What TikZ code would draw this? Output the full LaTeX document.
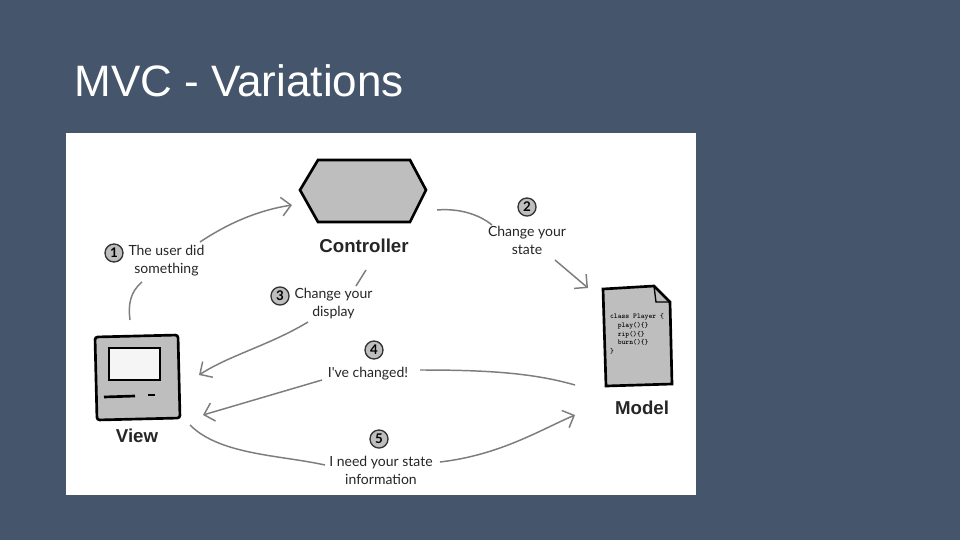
\documentclass[tikz,border=0pt]{standalone}
\usepackage{fontspec}
\setmainfont{Liberation Sans}
\newfontfamily\handfont{Lato}
\usetikzlibrary{arrows.meta,shapes.geometric}
\definecolor{slide}{RGB}{69,85,107}
\definecolor{ink}{RGB}{125,125,125}
\definecolor{shade}{RGB}{190,190,190}
\tikzset{every picture/.style={line width=0.75pt}}
\tikzset{
  flow/.style={draw=ink, line width=1.1pt, -{Straight Barb[length=7pt,width=14pt]}},
  flowpart/.style={draw=ink, line width=1.1pt},
  stepnum/.style={circle, draw=black!80, fill=shade, line width=1pt, inner sep=1.5pt, font=\handfont\bfseries\normalsize},
  note/.style={align=center, font=\handfont\fontsize{10.5}{13.5}\selectfont, text=black!85, inner sep=0.75pt},
  title/.style={font=\bfseries\fontsize{14}{16}\selectfont, text=black!85, inner sep=0.75pt}
}

\begin{document}
\begin{tikzpicture}[x=0.75pt,y=0.75pt,yscale=-1,xscale=1]
\useasboundingbox (0,0) rectangle (960,540);
\fill[slide] (0,0) rectangle (960,540);
\fill[white] (66,133) rectangle (696,495);

% Title
\node[anchor=west, text=white, font=\fontsize{33}{38}\selectfont, inner sep=0pt] (heading) at (74,81) {MVC - Variations};

%Shape: Controller
\draw[line width=2pt, fill=shade] (300,190) -- (318,160) -- (410,160) -- (426,190) -- (410,222) -- (318,222) -- cycle;
\node[title] (ctrl) at (364,246) {Controller};
%Shape: View
\draw[line width=2pt, fill=shade, rounded corners=2pt] (95,337) -- (178,335) -- (180,418) -- (97,420) -- cycle;
\draw[line width=1pt, fill=white!85!shade] (109,348) rectangle (160,380);
\draw[line width=2pt] (104,397) -- (135,396);
\draw[line width=2pt] (148,395) -- (155,395);
\node[title] (view) at (137,436) {View};
%Shape: Model
\draw[line width=2pt, fill=shade] (603,289) -- (654,286) -- (670,302) -- (672,384) -- (606,386) -- cycle;
\draw[line width=1pt] (654,286) -- (656,302) -- (670,302);
\node[font=\ttfamily\bfseries\fontsize{5.5}{6.5}\selectfont, align=left, inner sep=0pt] (code) at (637,334) {class Player \{\\\ \ play()\{\}\\\ \ rip()\{\}\\\ \ burn()\{\}\\\}};
\node[title] (model) at (642,408) {Model};

% Steps
\node[stepnum] (s1) at (114,253) {1};
\node[note, anchor=west] (t1) at (127,261) {The user did\\something};
\node[stepnum] (s2) at (527,207) {2};
\node[note] (t2) at (527,240) {Change your\\state};
\node[stepnum] (s3) at (280,296) {3};
\node[note, anchor=west] (t3) at (293,304) {Change your\\display};
\node[stepnum] (s4) at (374,350) {4};
\node[note] (t4) at (368,374) {I've changed!};
\node[stepnum] (s5) at (379,439) {5};
\node[note] (t5) at (381,470) {I need your state\\information};

% Connectors
\coordinate (a1) at (130,320);
\coordinate (m1) at (142,282);
\coordinate (n1) at (200,242);
\coordinate (b1) at (292,205);
\draw[flowpart] (a1) .. controls (128,305) and (130,292) .. (m1);
\draw[flow] (n1) .. controls (230,222) and (260,210) .. (b1);
\coordinate (a2) at (437,210);
\coordinate (m2) at (492,225);
\coordinate (n2) at (555,260);
\coordinate (b2) at (588,288);
\draw[flowpart] (a2) .. controls (460,208) and (480,215) .. (m2);
\draw[flow] (n2) -- (b2);
\coordinate (a3) at (366,270);
\coordinate (m3) at (356,286);
\coordinate (n3) at (308,322);
\coordinate (b3) at (199,375);
\draw[flowpart] (a3) -- (m3);
\draw[flow] (n3) .. controls (270,345) and (230,355) .. (b3);
\coordinate (a4) at (575,385);
\coordinate (m4) at (420,370);
\coordinate (n4) at (322,380);
\coordinate (b4) at (203,415);
\draw[flowpart] (a4) .. controls (530,372) and (480,370) .. (m4);
\draw[flow] (n4) -- (b4);
\coordinate (a5) at (190,425);
\coordinate (m5) at (325,465);
\coordinate (n5) at (440,462);
\coordinate (b5) at (575,415);
\draw[flowpart] (a5) .. controls (220,455) and (280,455) .. (m5);
\draw[flow] (n5) .. controls (500,455) and (540,430) .. (b5);
\end{tikzpicture}
\end{document}
